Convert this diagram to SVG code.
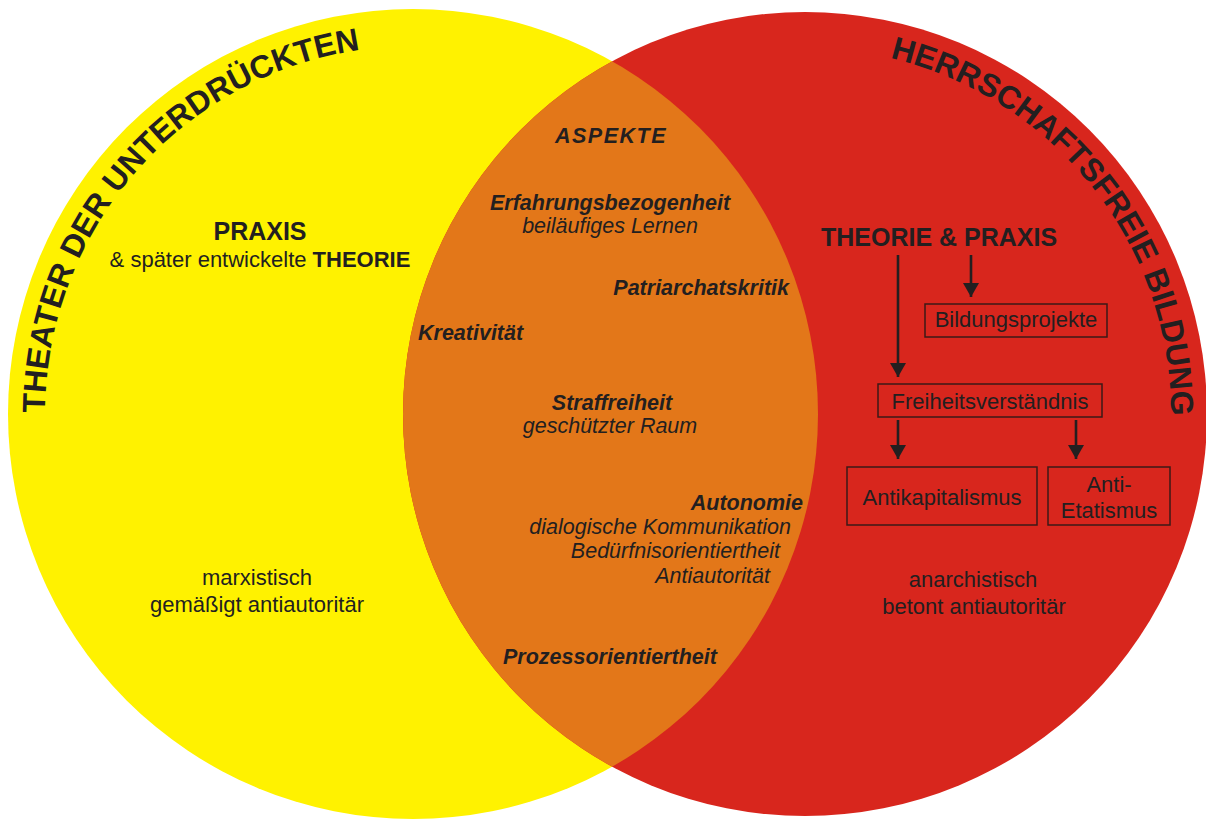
<svg xmlns="http://www.w3.org/2000/svg" xmlns:xlink="http://www.w3.org/1999/xlink" width="1206" height="819" viewBox="0 0 1206 819">
<style>
text{font-family:"Liberation Sans",Arial,sans-serif;fill:#231F20}
.t{font-size:22px}
.b{font-weight:bold}
.i{font-style:italic;font-size:21.5px}
.bi{font-style:italic;font-weight:bold;font-size:21.5px}
.title{font-weight:bold;font-size:32px}
.box{fill:none;stroke:#3b1a17;stroke-width:1.5}
.arr{stroke:#231F20;stroke-width:2.6;fill:none}
.m{text-anchor:middle}
.e{text-anchor:end}
</style>
<defs>
<clipPath id="clipY"><circle cx="413" cy="414" r="405"/></clipPath>
<marker id="ah" markerUnits="userSpaceOnUse" markerWidth="14" markerHeight="16" viewBox="0 0 14 16" refX="14" refY="8" orient="auto"><path d="M0,0 L14,8 L0,16 z" fill="#231F20"/></marker>
<path id="arcY" d="M45,414 A368,368 0 0 1 413,46 A368,368 0 0 1 781,414"/>
<path id="arcR" d="M805,48 A366,366 0 0 1 1171,414 A366,366 0 0 1 805,780"/>
</defs>
<rect width="1206" height="819" fill="#ffffff"/>
<g id="circle-theater">
<circle cx="413" cy="414" r="405" fill="#FFF200"/>
</g>
<g id="circle-herrschaftsfrei">
<circle cx="805" cy="414" r="402" fill="#D8261D"/>
</g>
<g id="overlap">
<circle cx="805" cy="414" r="402" fill="#E37719" clip-path="url(#clipY)"/>
</g>
<g id="title-theater">
<text class="title"><textPath xlink:href="#arcY" href="#arcY" startOffset="263" text-anchor="middle">THEATER DER UNTERDRÜCKTEN</textPath></text>
</g>
<g id="title-herrschaftsfrei">
<text class="title"><textPath xlink:href="#arcR" href="#arcR" startOffset="331" text-anchor="middle">HERRSCHAFTSFREIE BILDUNG</textPath></text>
</g>
<g id="left-praxis">
<text class="b m" x="260" y="240" font-size="25">PRAXIS</text>
<text class="t m" x="260" y="267">&amp; später entwickelte <tspan class="b">THEORIE</tspan></text>
</g>
<g id="left-marxistisch">
<text class="t m" x="257" y="585">marxistisch</text>
<text class="t m" x="257" y="612">gemäßigt antiautoritär</text>
</g>
<g id="aspekte">
<text class="bi m" x="611" y="143" font-size="27" letter-spacing="1.5">ASPEKTE</text>
</g>
<g id="erfahrung">
<text class="bi m" x="610" y="210">Erfahrungsbezogenheit</text>
<text class="i m" x="610" y="233">beiläufiges Lernen</text>
</g>
<g id="patriarchat">
<text class="bi e" x="789" y="295">Patriarchatskritik</text>
</g>
<g id="kreativitaet">
<text class="bi" x="418" y="340">Kreativität</text>
</g>
<g id="straffreiheit">
<text class="bi m" x="612" y="410">Straffreiheit</text>
<text class="i m" x="610" y="433">geschützter Raum</text>
</g>
<g id="autonomie">
<text class="bi e" x="803" y="510">Autonomie</text>
<text class="i e" x="791" y="534">dialogische Kommunikation</text>
<text class="i e" x="780" y="558">Bedürfnisorientiertheit</text>
<text class="i e" x="770" y="583">Antiautorität</text>
</g>
<g id="prozess">
<text class="bi" x="503" y="664">Prozessorientiertheit</text>
</g>
<g id="theorie-praxis">
<text class="b" x="821" y="246" font-size="25">THEORIE &amp; PRAXIS</text>
</g>
<g id="bildungsprojekte">
<rect class="box" x="925" y="304" width="182" height="33"/>
<text class="t m" x="1016" y="327">Bildungsprojekte</text>
</g>
<g id="freiheitsverstaendnis">
<rect class="box" x="878" y="384" width="224" height="33"/>
<text class="t m" x="990" y="409">Freiheitsverständnis</text>
</g>
<g id="antikapitalismus">
<rect class="box" x="847" y="467" width="190" height="58"/>
<text class="t m" x="942" y="505">Antikapitalismus</text>
</g>
<g id="antietatismus">
<rect class="box" x="1048" y="467" width="122" height="58"/>
<text class="t m" x="1109" y="492">Anti-</text>
<text class="t m" x="1109" y="518">Etatismus</text>
</g>
<g id="right-anarchistisch">
<text class="t m" x="973" y="587">anarchistisch</text>
<text class="t m" x="974" y="614">betont antiautoritär</text>
</g>
<g id="connectors">
<line class="arr" x1="898" y1="255" x2="898" y2="377" marker-end="url(#ah)"/>
<line class="arr" x1="971" y1="255" x2="971" y2="297" marker-end="url(#ah)"/>
<line class="arr" x1="898" y1="420" x2="898" y2="459" marker-end="url(#ah)"/>
<line class="arr" x1="1076" y1="420" x2="1076" y2="459" marker-end="url(#ah)"/>
</g>
</svg>
